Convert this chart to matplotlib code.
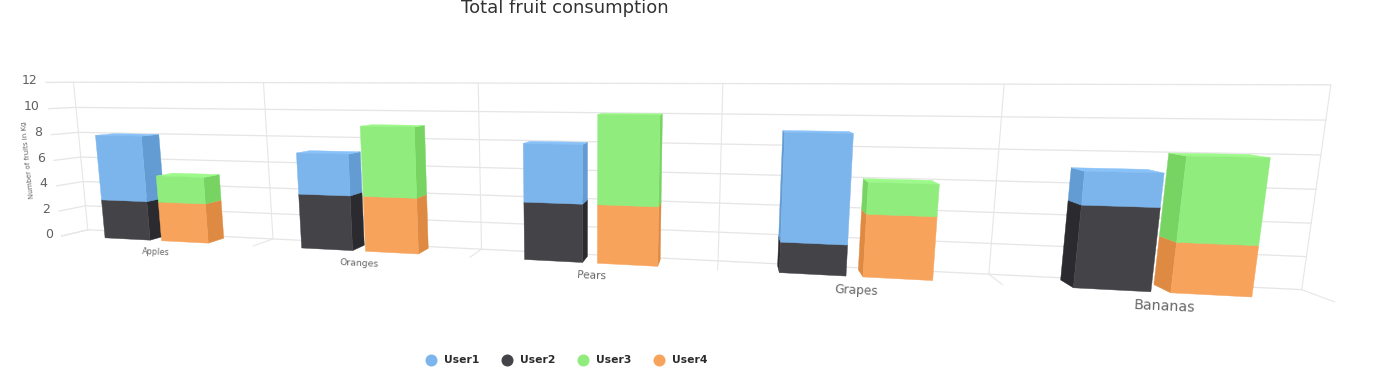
import numpy as np
import matplotlib
matplotlib.use('Agg')
import matplotlib.pyplot as plt
from matplotlib.patches import Polygon

categories = ['Apples', 'Oranges', 'Pears', 'Grapes', 'Bananas']
user1 = [5, 3, 4, 7, 2]
user2 = [3, 4, 4, 2, 5]
user3 = [2, 5, 6, 2, 5]
user4 = [3, 4, 4, 4, 3]
y_ticks = [0, 2, 4, 6, 8, 10, 12]
y_max = 12

BLUE, DARK, GREEN, ORANGE = '#7cb5ec', '#434348', '#90ed7d', '#f7a35c'
GRID = '#e6e6e6'
PX = 0.72  # points per pixel at dpi 100

# camera calibration: (category position, value, depth) -> pixel, depth 0 = front, 1 = back wall
camera_world = [(0, 0, 1), (1, 0, 1), (2, 0, 1), (3, 0, 1), (4, 0, 1), (5, 0, 1),
                (0, 12, 1), (1, 12, 1), (2, 12, 1), (3, 12, 1), (4, 12, 1), (5, 12, 1),
                (0, 0, 0), (1, 0, 0), (4, 0, 0), (5, 0, 0), (0, 12, 0)]
camera_px = [(88, 230), (273, 239), (481, 249), (718, 261), (989, 274), (1302, 289),
             (73, 82), (264, 83), (479, 83), (722, 84), (1004, 84), (1331, 85),
             (62, 236), (253, 246), (1003, 285), (1334, 302), (46, 82)]


def fit_camera(world, px):
    rows = []
    for (x, y, z), (u, v) in zip(world, px):
        p = [x, y, z, 1]
        rows.append(p + [0, 0, 0, 0] + [-u * c for c in p])
        rows.append([0, 0, 0, 0] + p + [-v * c for c in p])
    return np.linalg.svd(np.array(rows, dtype=float))[2][-1].reshape(3, 4)


cam = fit_camera(camera_world, camera_px)


def project(x, y, z):
    u, v, w = cam @ np.array([x, y, z, 1.0])
    return u / w, v / w


def shade(color, amount):
    rgb = np.array(matplotlib.colors.to_rgb(color)) + amount
    return tuple(np.clip(rgb, 0, 1))


def draw_box(ax, x0, x1, y0, y1, color, z0=0.05, z1=0.77):
    p = project

    def face(points, fill):
        ax.add_patch(Polygon(points, fc=fill, ec=fill, lw=0.3, zorder=3))

    # left and right sides only show when they face the camera
    if p(x0, y0, z1)[0] < p(x0, y0, z0)[0]:
        face([p(x0, y0, z0), p(x0, y1, z0), p(x0, y1, z1), p(x0, y0, z1)], shade(color, -0.1))
    if p(x1, y0, z1)[0] > p(x1, y0, z0)[0]:
        face([p(x1, y0, z0), p(x1, y1, z0), p(x1, y1, z1), p(x1, y0, z1)], shade(color, -0.1))
    face([p(x0, y1, z0), p(x1, y1, z0), p(x1, y1, z1), p(x0, y1, z1)], shade(color, 0.05))
    face([p(x0, y0, z0), p(x1, y0, z0), p(x1, y1, z0), p(x0, y1, z0)], color)


fig = plt.figure(figsize=(13.85, 3.79), dpi=100)
ax = fig.add_axes([0, 0, 1, 1])
ax.set_xlim(0, 1385)
ax.set_ylim(379, 0)
ax.axis('off')

n = len(categories)

# back wall and left wall grid
for v in y_ticks:
    a, b, c = project(0, v, 0), project(0, v, 1), project(n, v, 1)
    ax.plot([a[0], b[0], c[0]], [a[1], b[1], c[1]], color=GRID, lw=1.3 * PX, zorder=1)
    ax.text(a[0] - 9, a[1] - 2, str(v), ha='right', va='center',
            fontsize=12.5 * PX, color='#606060')
for k in range(n + 1):
    a, b, c = project(k, 0, 0), project(k, 0, 1), project(k, y_max, 1)
    ax.plot([a[0], b[0], c[0]], [a[1], b[1], c[1]], color=GRID, lw=1.1 * PX, zorder=1)

# stacks, the one further from the camera first
for i in range(n):
    left = (i + 0.23, i + 0.47, [(user2[i], DARK), (user1[i], BLUE)])
    right = (i + 0.53, i + 0.77, [(user4[i], ORANGE), (user3[i], GREEN)])
    # right side showing means the camera is right of the stack
    order = [left, right] if project(i + 0.5, 0, 1)[0] > project(i + 0.5, 0, 0)[0] else [right, left]
    for x0, x1, parts in order:
        base = 0
        for val, col in parts:
            draw_box(ax, x0, x1, base, base + val, col)
            base += val

    # category labels shrink with distance
    f0, f1 = project(i, 0, 0), project(i + 1, 0, 0)
    size = 0.0425 * (f1[0] - f0[0])
    lx, ly = project(i + 0.5, 0, 0)
    slope = np.degrees(np.arctan2(f1[1] - f0[1], f1[0] - f0[0]))
    ax.text(lx + 1 + 0.3 * i, ly + 11 + 0.7 * i, categories[i], ha='center', va='center',
            fontsize=size * PX, color='#666666', rotation=-slope * 0.9, rotation_mode='anchor')

ax.text(565, 8, 'Total fruit consumption', ha='center', va='center',
        fontsize=18 * PX, color='#333333')
ax.text(27.5, 160, 'Number of fruits in Kg', ha='center', va='center',
        fontsize=7 * PX, color='#666666', rotation=96)

# legend
legend_names = ['User1', 'User2', 'User3', 'User4']
legend_colors = [BLUE, DARK, GREEN, ORANGE]
for j, (name, col) in enumerate(zip(legend_names, legend_colors)):
    x = 431 + 76 * j
    ax.scatter([x], [360], s=(12 * PX) ** 2, color=col, linewidths=0)
    ax.text(x + 13, 360, name, ha='left', va='center', fontsize=10.8 * PX,
            fontweight='bold', color='#2b2b2b')

fig.savefig('out.png', dpi=100)
